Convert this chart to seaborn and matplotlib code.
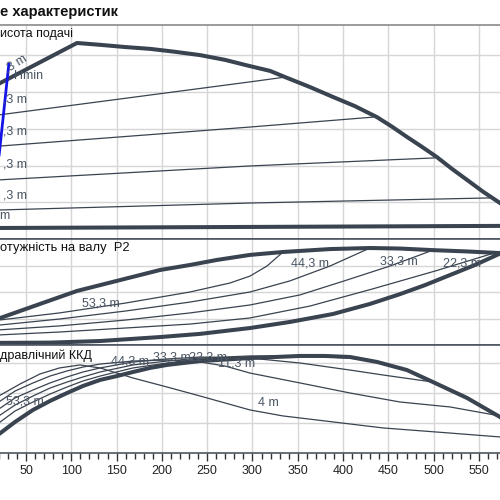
import matplotlib
matplotlib.use("Agg")
import numpy as np
import pandas as pd
import seaborn as sns
import matplotlib.pyplot as plt
from matplotlib.ticker import MultipleLocator

# ---------------- data (Q in m3/h) ----------------
# Head panel (H, m)
q_hmax = [20, 106.3, 131.7, 159.3, 186.9, 214.5, 242.1, 269.6, 297.2, 319.3, 338.1, 363.4,
          388.8, 413.0, 437.4, 454.0, 470.5, 487.1, 503.6, 520.2, 536.8, 554.4, 573.2, 600]
h_hmax = [42.3, 53.4, 52.9, 52.3, 51.8, 51.0, 50.1, 48.8, 47.1, 45.8, 43.9, 41.4,
          38.7, 36.2, 33.2, 30.6, 27.8, 25.1, 22.3, 19.1, 16.1, 12.9, 9.8, 5.2]
q_h44 = [20, 297.2, 335.9]
h_h44 = [33.8, 42.8, 44.1]
q_h33 = [20, 297.2, 433.0]
h_h33 = [25.3, 30.5, 33.2]
q_h22 = [20, 297.2, 501.4]
h_h22 = [16.1, 19.9, 22.1]
q_h11 = [20, 297.2, 564.3]
h_h11 = [7.9, 9.8, 11.2]
q_h4 = [20, 600]
h_h4 = [3.0, 3.6]
q_blue = [19.1, 31.2]
h_blue = [20.0, 48.0]

# Power panel (P2, kW)
q_pmax = [20, 65.5, 106.3, 153.8, 197.9, 231.0, 260.8, 297.2, 333.7, 385.5, 429.7, 462.8,
          499.2, 536.8, 573.2, 600]
p_pmax = [1.0, 1.55, 2.04, 2.45, 2.83, 3.02, 3.21, 3.40, 3.51, 3.62, 3.66, 3.64,
          3.58, 3.53, 3.47, 3.42]
q_p44 = [20, 86.9, 159.3, 231.0, 275.2, 297.2, 316.0, 333.7]
p_p44 = [0.94, 1.21, 1.58, 2.0, 2.34, 2.60, 2.98, 3.51]
q_p33 = [20, 86.9, 159.3, 231.0, 297.2, 341.4, 385.5, 429.7]
p_p33 = [0.75, 0.98, 1.28, 1.62, 2.0, 2.42, 2.98, 3.66]
q_p22 = [20, 86.9, 159.3, 231.0, 297.2, 352.4, 397.7, 451.8, 499.2]
p_p22 = [0.57, 0.72, 0.94, 1.21, 1.51, 1.89, 2.38, 2.98, 3.58]
q_p11 = [20, 86.9, 159.3, 231.0, 297.2, 363.4, 431.9, 501.4, 567.6]
p_p11 = [0.38, 0.49, 0.64, 0.79, 1.02, 1.47, 2.11, 2.79, 3.48]
q_p4 = [20, 76.5, 131.7, 197.9, 242.1, 297.2, 341.4, 388.8, 429.7, 462.8, 490.4, 518.0, 545.6, 573.2]
p_p4 = [0.08, 0.09, 0.15, 0.30, 0.42, 0.64, 0.87, 1.17, 1.55, 1.92, 2.26, 2.64, 3.02, 3.45]

# Efficiency panel (eta, %)
q_emax = [20, 37.9, 57.7, 76.5, 95.3, 112.9, 131.7, 150.4, 168.1, 186.9, 205.6, 242.1, 297.2,
          352.4, 380.0, 407.6, 437.4, 470.5, 499.2, 536.8, 573.2, 600]
e_emax = [12.5, 20.7, 28.7, 34.7, 40.0, 44.7, 48.7, 51.3, 54.0, 56.7, 58.7, 61.3, 63.3,
          64.7, 64.7, 64.0, 60.7, 55.3, 47.3, 36.7, 24.0, 12.0]
q_e4 = [20, 43.4, 65.5, 86.9, 109.6, 131.7, 142.7, 168.1, 205.6, 242.1, 297.2, 333.7,
        371.2, 444.1, 518.0, 573.2, 600]
e_e4 = [38, 46, 52.7, 56.7, 58.7, 56.7, 54.7, 50, 44, 38, 28.7, 24.7,
        22, 16.7, 13.3, 10.7, 10]
q_e11 = [20, 37.9, 57.7, 76.5, 95.3, 112.9, 131.7, 168.1, 205.6, 242.1, 269.6, 297.2,
         352.4, 407.6, 462.8, 518.0, 573.2]
e_e11 = [34, 41.3, 46.7, 51.3, 54.7, 57.3, 59.3, 61.3, 62, 60.7, 58, 53.3,
         46.7, 40, 34, 30.7, 24.7]
q_e22 = [20, 37.9, 57.7, 76.5, 95.3, 112.9, 131.7, 168.1, 205.6, 242.1, 297.2, 352.4,
         407.6, 444.1, 499.2]
e_e22 = [29.3, 36.7, 42, 46.7, 50.7, 54, 56.7, 60.7, 62.7, 64, 63.3, 60,
         55.3, 52, 47.3]
q_e33 = [20, 37.9, 57.7, 76.5, 95.3, 112.9, 131.7, 168.1, 205.6, 242.1, 297.2, 352.4,
         407.6, 437.4]
e_e33 = [24.7, 32, 38, 43.3, 47.3, 50.7, 54, 58.7, 61.3, 63.3, 64.7, 64.7,
         63.3, 60.7]
q_e44 = [20, 37.9, 57.7, 76.5, 95.3, 112.9, 131.7, 168.1, 205.6, 242.1, 297.2, 333.7]
e_e44 = [20, 28, 34, 39.3, 44, 48, 51.3, 56.7, 60, 62.7, 64, 64]

x_ticks = list(range(0, 601, 50))
x_labels = ["" if v in (0, 600) else str(v) for v in x_ticks]

# ---------------- style ----------------
sns.set_theme(style="white")
plt.rcParams["font.family"] = ["Liberation Sans", "DejaVu Sans"]

LINE = "#3a4350"
TXT = "#4a5563"
GRID = "#d6d6d6"
THICK = 2.9
THIN = 0.9

fig = plt.figure(figsize=(5, 5), dpi=100)
X0 = -19.3 / 500
W = 0.906 * 600 / 500


def rect(top, bot):
    return [X0, 1 - bot / 500, W, (bot - top) / 500]


ax1 = fig.add_axes(rect(25, 239))
ax2 = fig.add_axes(rect(239, 345))
ax3 = fig.add_axes(rect(345, 453))

for ax, ylim, yt in [(ax1, (0, 58.3), [10, 20, 30, 40, 50]),
                     (ax2, (0, 4.0), [1, 2, 3]),
                     (ax3, (0, 72), [20, 40, 60])]:
    ax.set_xlim(0, 600)
    ax.set_ylim(*ylim)
    ax.set_xticks(x_ticks)
    ax.set_yticks(yt)
    ax.grid(True, which="major", color=GRID, lw=1.0)
    ax.set_axisbelow(True)
    ax.tick_params(axis="y", length=0, labelleft=False)
    ax.spines["left"].set_visible(False)
    ax.spines["right"].set_visible(False)
    for s in ("top", "bottom"):
        ax.spines[s].set_color("#4d5660")
        ax.spines[s].set_linewidth(1.2)

ax1.spines["top"].set_color("#8a8a8a")
for ax in (ax1, ax2):
    ax.tick_params(axis="x", length=0, labelbottom=False)

ax3.set_xticklabels(x_labels)
ax3.xaxis.set_minor_locator(MultipleLocator(10))
ax3.tick_params(axis="x", which="major", direction="out", length=6, width=1,
                color="#333333", labelsize=9, labelcolor="#222222", pad=3, bottom=True)
ax3.tick_params(axis="x", which="minor", direction="out", length=4.5, width=1,
                color="#333333", bottom=True)


def draw(ax, q, v, lw, color=LINE):
    sns.lineplot(x=q, y=v, ax=ax, color=color, linewidth=lw, sort=False,
                 estimator=None, legend=False, zorder=3)


# head
for q, h in [(q_h44, h_h44), (q_h33, h_h33), (q_h22, h_h22), (q_h11, h_h11)]:
    draw(ax1, q, h, THIN)
draw(ax1, q_h4, h_h4, THICK)
draw(ax1, q_hmax, h_hmax, THICK)
draw(ax1, q_blue, h_blue, 2.0, color="#1414e6")

# power
for q, p in [(q_p44, p_p44), (q_p33, p_p33), (q_p22, p_p22), (q_p11, p_p11)]:
    draw(ax2, q, p, THIN)
draw(ax2, q_p4, p_p4, THICK)
draw(ax2, q_pmax, p_pmax, THICK)

# efficiency
for q, e in [(q_e4, e_e4), (q_e11, e_e11), (q_e22, e_e22), (q_e33, e_e33), (q_e44, e_e44)]:
    draw(ax3, q, e, THIN)
draw(ax3, q_emax, e_emax, THICK)

for ax in (ax1, ax2, ax3):
    ax.set_xlabel("")
    ax.set_ylabel("")
    for ln in ax.lines:
        ln.set_solid_joinstyle("round")
        ln.set_solid_capstyle("butt")


def ftext(px, py, s, **kw):
    kw.setdefault("fontsize", 9)
    kw.setdefault("color", TXT)
    kw.setdefault("va", "center")
    fig.text(px / 500, 1 - py / 500, s, zorder=1, **kw)


# titles
ftext(0, 12, "е характеристик", fontsize=10.5, fontweight="bold", color="#111111", ha="left")
ftext(0, 34, "исота подачі", color="#111111", ha="left")
ftext(0, 248, "отужність на валу  P2", color="#111111", ha="left", fontsize=9.3)
ftext(0, 356, "дравлічний ККД", color="#111111", ha="left")

# head labels (left parts are cropped in the reference)
ftext(27, 100, ",3 m", ha="right")
ftext(27, 131, ",3 m", ha="right")
ftext(27, 164, ",3 m", ha="right")
ftext(27, 195, ",3 m", ha="right")
ftext(9, 216, "m", ha="right")
fig.text(28 / 500, 1 - 60 / 500, ",3 m", fontsize=9, color=TXT, ha="right", va="baseline",
         rotation=32, rotation_mode="anchor")
ftext(14, 76, "Hmin", ha="left")

# power labels
ftext(101, 303, "53,3 m", ha="center")
ftext(310, 263, "44,3 m", ha="center")
ftext(399, 262, "33,3 m", ha="center")
ftext(462, 263, "22,3 m", ha="center")

# efficiency labels
ftext(25, 402, "53,3 m", ha="center")
ftext(130, 362, "44,3 m", ha="center")
ftext(172, 357, "33,3 m", ha="center")
ftext(208, 357, "22,3 m", ha="center")
ftext(237, 364, "11,3 m", ha="center")
ftext(268, 403, "4 m", ha="center")

fig.savefig("out.png", dpi=100)
